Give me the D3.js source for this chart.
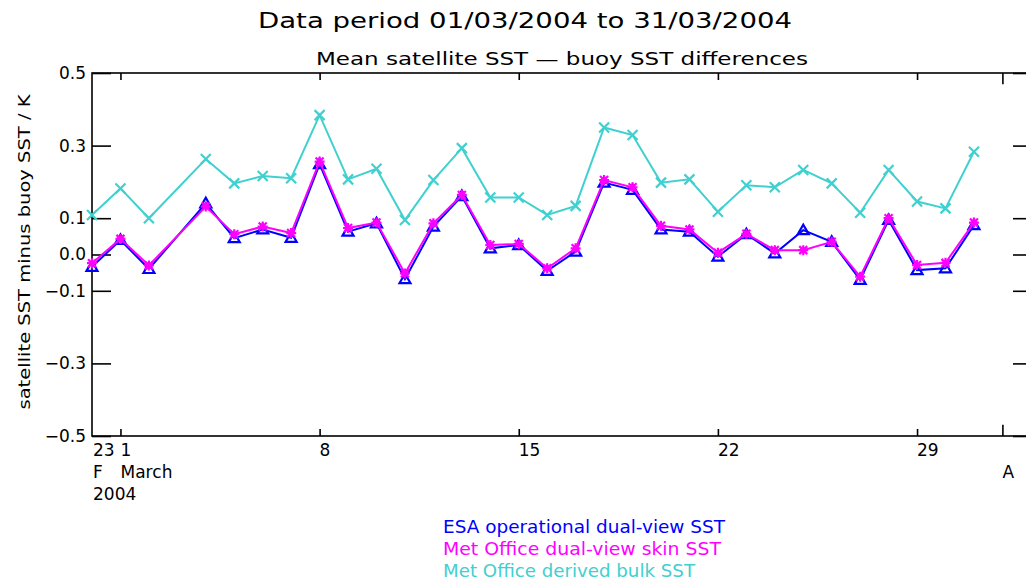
<!DOCTYPE html>
<html>
<head>
<meta charset="utf-8">
<script src="https://cdn.jsdelivr.net/npm/d3@7"></script>
<style>
  body { margin: 0; background: #fff; }
  text { font-family: "DejaVu Sans", sans-serif; fill: #000; }
</style>
</head>
<body>
<script>
"use strict";

// day of March 2004 (0 = 29 Feb), 3 March has no data
const days = [0, 1, 2, 4, 5, 6, 7, 8, 9, 10, 11, 12, 13, 14, 15, 16, 17, 18, 19, 20, 21, 22, 23, 24, 25, 26, 27, 28, 29, 30, 31];
const esaSST = [-0.034, 0.040, -0.040, 0.141, 0.045, 0.069, 0.046, 0.249, 0.063, 0.086, -0.068, 0.077, 0.161, 0.017, 0.026, -0.045, 0.008, 0.198, 0.178, 0.069, 0.063, -0.006, 0.056, 0.003, 0.067, 0.035, -0.070, 0.095, -0.043, -0.038, 0.081];
const skinSST = [-0.024, 0.043, -0.030, 0.132, 0.056, 0.077, 0.059, 0.256, 0.073, 0.088, -0.052, 0.086, 0.164, 0.026, 0.029, -0.038, 0.017, 0.205, 0.185, 0.079, 0.069, 0.005, 0.057, 0.012, 0.012, 0.035, -0.061, 0.100, -0.029, -0.023, 0.088];
const bulkSST = [0.109, 0.182, 0.100, 0.263, 0.196, 0.216, 0.210, 0.384, 0.207, 0.236, 0.095, 0.205, 0.293, 0.157, 0.157, 0.109, 0.134, 0.350, 0.329, 0.198, 0.207, 0.118, 0.191, 0.185, 0.233, 0.196, 0.115, 0.233, 0.146, 0.127, 0.283];

const yTicks = [0.5, 0.3, 0.1, 0.0, -0.1, -0.3, -0.5];
const xTicks = [1, 8, 15, 22, 29];
const monthTick = 32; // 1 April

const series = [
  { name: "ESA operational dual-view SST", values: esaSST, color: "#0000ff", symbol: "triangle", len: 282 },
  { name: "Met Office dual-view skin SST", values: skinSST, color: "#ff00ff", symbol: "star", len: 278 },
  { name: "Met Office derived bulk SST", values: bulkSST, color: "#40d0d0", symbol: "cross", len: 252 }
];

const w = 1026;
const h = 586;
const plotLeft = 92, plotRight = 1032, plotTop = 73, plotBottom = 436;

const svg = d3.select("body").append("svg").attr("width", w).attr("height", h);

const xScale = d3.scaleLinear().domain([0, 33]).range([plotLeft, plotLeft + 33 * 28.45]);
const yScale = d3.scaleLinear().domain([-0.5, 0.5]).range([plotBottom, plotTop]);

//Titles
svg.append("text").attr("x", 258).attr("y", 28).attr("font-size", 22)
  .attr("textLength", 534).attr("lengthAdjust", "spacingAndGlyphs")
  .text("Data period 01/03/2004 to 31/03/2004");
svg.append("text").attr("x", 316).attr("y", 65).attr("font-size", 18)
  .attr("textLength", 492).attr("lengthAdjust", "spacingAndGlyphs")
  .text("Mean satellite SST \u2014 buoy SST differences");

//y label
svg.append("text")
  .attr("transform", "translate(30, 252) rotate(-90)")
  .attr("text-anchor", "middle").attr("font-size", 16)
  .attr("textLength", 315).attr("lengthAdjust", "spacingAndGlyphs")
  .text("satellite SST minus buoy SST / K");

//frame
svg.append("rect").attr("x", plotLeft).attr("y", plotTop)
  .attr("width", plotRight - plotLeft).attr("height", plotBottom - plotTop)
  .attr("fill", "none").attr("stroke", "#000").attr("stroke-width", 1.6);

//y axes
const yAxis = d3.axisLeft(yScale).tickValues(yTicks).tickSize(-19).tickPadding(6)
  .tickFormat(d3.format(".1f"));
svg.append("g").attr("transform", `translate(${plotLeft}, 0)`).call(yAxis)
  .call((g) => g.select(".domain").remove())
  .call((g) => g.selectAll(".tick line").attr("stroke-width", 1.6))
  .call((g) => g.selectAll(".tick text").attr("font-size", 17)
    .attr("font-family", "DejaVu Sans").attr("x", -6)
    .text((d) => (d < 0 ? "\u2212" : "") + d3.format(".1f")(Math.abs(d))));

svg.append("g").attr("transform", `translate(${plotRight}, 0)`)
  .call(d3.axisRight(yScale).tickValues(yTicks).tickSize(-19).tickFormat(""))
  .call((g) => g.select(".domain").remove())
  .call((g) => g.selectAll(".tick line").attr("stroke-width", 1.6));

//x axes (ticks on bottom and top)
const drawXTicks = (axis, y, len) => {
  svg.append("g").attr("transform", `translate(0, ${y})`)
    .call(axis(xScale).tickValues(xTicks).tickSize(len).tickFormat(""))
    .call((g) => g.select(".domain").remove())
    .call((g) => g.selectAll(".tick line").attr("stroke-width", 1.6));
  svg.append("g").attr("transform", `translate(0, ${y})`)
    .call(axis(xScale).tickValues([monthTick]).tickSize(len * 1.6).tickFormat(""))
    .call((g) => g.select(".domain").remove())
    .call((g) => g.selectAll(".tick line").attr("stroke-width", 1.6));
};
drawXTicks(d3.axisTop, plotBottom, 7);
drawXTicks(d3.axisBottom, plotTop, 7);

const xLabels = svg.append("g").attr("font-size", 17);
xLabels.append("text").attr("x", plotLeft + 1).attr("y", 456).text("23");
xTicks.forEach((d) => {
  xLabels.append("text").attr("x", xScale(d)).attr("y", 456).text(d);
});
xLabels.append("text").attr("x", plotLeft + 1).attr("y", 478).text("F");
xLabels.append("text").attr("x", xScale(1)).attr("y", 478).attr("textLength", 52).text("March");
xLabels.append("text").attr("x", xScale(monthTick)).attr("y", 478).text("A");
xLabels.append("text").attr("x", plotLeft + 1).attr("y", 500).text("2004");

//symbols
const symbolPath = (type) => {
  if (type === "triangle") return "M-5.5,4L0,-5.5L5.5,4Z M-5.5,4L5.5,4";
  if (type === "star") return "M-5,0L5,0M0,-5L0,5M-4,-4L4,4M-4,4L4,-4";
  return "M-5,-5L5,5M-5,5L5,-5";
};

const line = d3.line().x((d) => xScale(d.day)).y((d) => yScale(d.value));

series.forEach((s) => {
  const pts = days.map((day, i) => ({ day: day, value: s.values[i] }));
  const g = svg.append("g");
  g.append("path").datum(pts).attr("d", line)
    .attr("fill", "none").attr("stroke", s.color).attr("stroke-width", 2);
  g.selectAll("path.sym").data(pts).enter().append("path")
    .attr("class", "sym")
    .attr("transform", (d) => `translate(${xScale(d.day)}, ${yScale(d.value)})`)
    .attr("d", symbolPath(s.symbol))
    .attr("fill", "none").attr("stroke", s.color).attr("stroke-width", 2.2);
});

//legend
series.forEach((s, i) => {
  svg.append("text").attr("x", 443).attr("y", 533 + i * 22)
    .attr("font-size", 17).style("fill", s.color)
    .attr("textLength", s.len).attr("lengthAdjust", "spacingAndGlyphs")
    .text(s.name);
});
</script>
</body>
</html>
